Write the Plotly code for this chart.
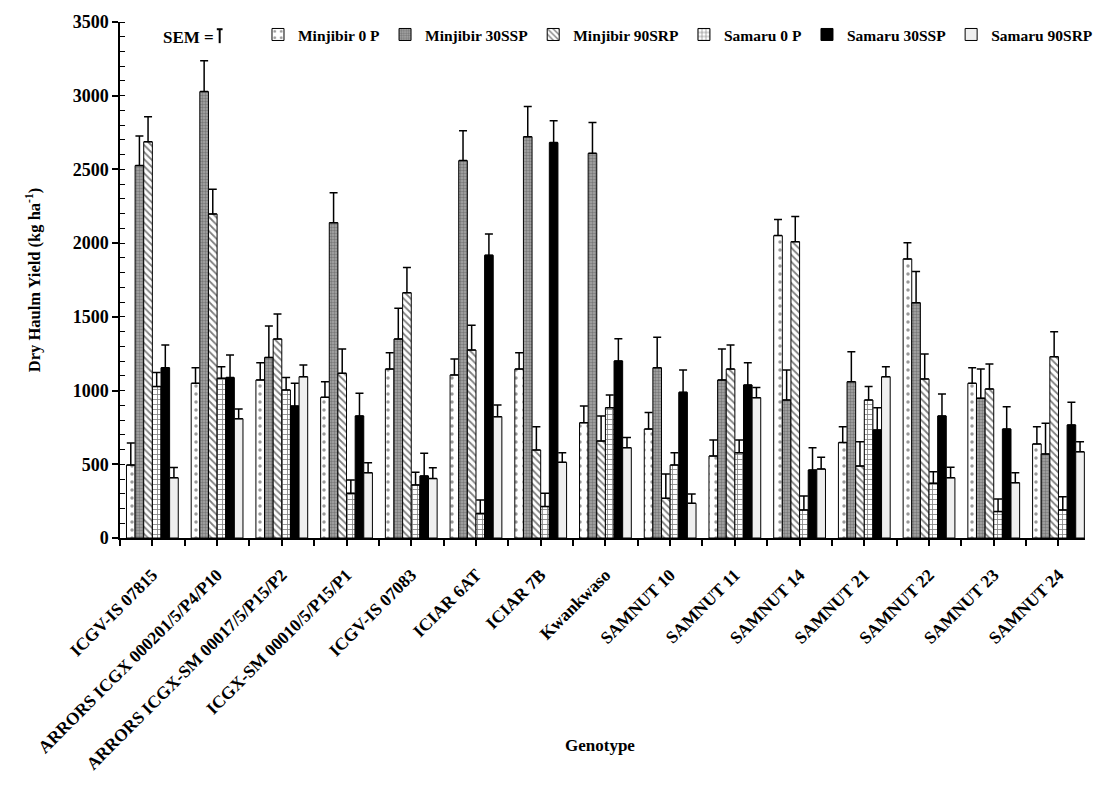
import plotly.graph_objects as go

genotypes = ["ICGV-IS 07815", "ARRORS ICGX 000201/5/P4/P10", "ARRORS ICGX-SM 00017/5/P15/P2",
             "ICGX-SM 00010/5/P15/P1", "ICGV-IS 07083", "ICIAR 6AT", "ICIAR 7B", "Kwankwaso",
             "SAMNUT 10", "SAMNUT 11", "SAMNUT 14", "SAMNUT 21", "SAMNUT 22", "SAMNUT 23", "SAMNUT 24"]

series_names = ["Minjibir 0 P", "Minjibir 30SSP", "Minjibir 90SRP", "Samaru 0 P", "Samaru 30SSP", "Samaru 90SRP"]

minjibir_0p   = [495, 1049, 1072, 954, 1146, 1106, 1146, 782, 739, 556, 2051, 647, 1893, 1049, 638]
minjibir_30   = [2526, 3028, 1225, 2139, 1350, 2560, 2722, 2609, 1155, 1072, 936, 1060, 1596, 948, 570]
minjibir_90   = [2688, 2198, 1350, 1117, 1664, 1275, 597, 658, 269, 1146, 2010, 488, 1079, 1011, 1230]
samaru_0p     = [1027, 1083, 1004, 303, 360, 167, 213, 884, 495, 579, 190, 936, 371, 179, 190]
samaru_30     = [1155, 1088, 895, 828, 421, 1918, 2682, 1201, 988, 1038, 461, 733, 828, 739, 767]
samaru_90     = [409, 809, 1094, 443, 403, 823, 513, 613, 235, 952, 468, 1094, 409, 375, 585]

err_minjibir_0p = [150, 106, 117, 106, 111, 108, 111, 113, 113, 109, 110, 108, 110, 106, 117]
err_minjibir_30 = [200, 210, 213, 203, 208, 203, 204, 209, 206, 210, 204, 204, 211, 198, 208]
err_minjibir_90 = [170, 167, 170, 165, 170, 168, 158, 170, 165, 163, 170, 165, 169, 169, 169]
err_samaru_0p   = [95, 79, 84, 90, 86, 90, 90, 86, 84, 86, 95, 91, 79, 86, 90]
err_samaru_30   = [154, 153, 154, 153, 154, 144, 149, 151, 152, 151, 152, 151, 149, 152, 153]
err_samaru_90   = [70, 66, 79, 68, 74, 79, 66, 68, 63, 68, 79, 68, 71, 68, 68]

values = [minjibir_0p, minjibir_30, minjibir_90, samaru_0p, samaru_30, samaru_90]
errors = [err_minjibir_0p, err_minjibir_30, err_minjibir_90, err_samaru_0p, err_samaru_30, err_samaru_90]

y_ticks = [0, 500, 1000, 1500, 2000, 2500, 3000, 3500]

markers = [
    dict(color="white", line=dict(color="black", width=1),
         pattern=dict(shape=".", fgcolor="#333333", bgcolor="white", size=8, solidity=0.15)),
    dict(color="#8c8c8c", line=dict(color="black", width=1),
         pattern=dict(shape=".", fgcolor="#4a4a4a", bgcolor="#a8a8a8", size=3, solidity=0.5)),
    dict(color="white", line=dict(color="black", width=1),
         pattern=dict(shape="\\", fgcolor="black", bgcolor="white", size=5, solidity=0.35)),
    dict(color="white", line=dict(color="black", width=1),
         pattern=dict(shape="+", fgcolor="black", bgcolor="white", size=5, solidity=0.3)),
    dict(color="black", line=dict(color="black", width=1)),
    dict(color="#efefef", line=dict(color="black", width=1)),
]

x_pos = list(range(len(genotypes)))
FONT = "Liberation Serif, Times New Roman, serif"

fig = go.Figure()
for name, vals, errs, mk in zip(series_names, values, errors, markers):
    fig.add_trace(go.Bar(
        x=x_pos, y=vals, name=name, marker=mk,
        error_y=dict(type="data", symmetric=False, array=errs, arrayminus=[0] * len(errs),
                     color="black", thickness=1.5, width=4),
    ))

fig.update_layout(
    width=1098, height=790,
    barmode="group", bargap=0.2, bargroupgap=0,
    plot_bgcolor="white", paper_bgcolor="white",
    margin=dict(l=120, r=0, t=22, b=252),
    font=dict(family=FONT, size=16, color="black"),
    legend=dict(orientation="h", x=0.143, y=0.975, xanchor="left", yanchor="middle",
                font=dict(family=FONT, size=15.5, color="black", weight="bold"),
                itemwidth=30, bgcolor="rgba(0,0,0,0)", traceorder="normal"),
    xaxis=dict(
        range=[-0.5, 14.41], tickmode="array", tickvals=x_pos,
        ticktext=["<b>%s</b>" % g for g in genotypes], tickangle=-45,
        tickfont=dict(family=FONT, size=17.5, color="black"),
        ticklabelstandoff=12,
        showline=True, linecolor="black", linewidth=1.5,
        ticks="outside", ticklen=6, tickcolor="black", tickwidth=1.5,
        minor=dict(tickvals=[i - 0.5 for i in x_pos], ticks="outside", ticklen=6,
                   tickcolor="black", tickwidth=1.5),
        showgrid=False, zeroline=False, automargin=False,
    ),
    yaxis=dict(
        range=[0, 3500], tickmode="array", tickvals=y_ticks,
        ticktext=["<b>%d</b>" % v for v in y_ticks],
        tickfont=dict(family=FONT, size=18, color="black"),
        showline=True, linecolor="black", linewidth=1.5,
        ticks="outside", ticklen=6, tickcolor="black", tickwidth=1.5,
        minor=dict(dtick=100, ticks="inside", ticklen=5, tickcolor="black", tickwidth=1),
        showgrid=False, zeroline=False, automargin=False,
        title=dict(text="<b>Dry Haulm Yield (kg ha<sup>-1</sup>)</b>", font=dict(family=FONT, size=16.5),
                   standoff=28),
    ),
)

# x-axis title
fig.add_annotation(xref="paper", yref="paper", x=0.497, y=0.0, yshift=-207,
                   xanchor="center", yanchor="middle", showarrow=False,
                   text="<b>Genotype</b>", font=dict(family=FONT, size=17, color="black"))

fig.add_annotation(xref="paper", yref="paper", x=0.0, y=1.0, xshift=-120 + 161, yshift=-15,
                   xanchor="left", yanchor="middle", showarrow=False,
                   text="<b>SEM =</b>", font=dict(family=FONT, size=17, color="black"))
# SEM glyph (error-bar symbol)
fig.add_shape(type="line", xref="paper", yref="paper", x0=0.1033, x1=0.1033, y0=0.959, y1=0.986,
              line=dict(color="black", width=2))
fig.add_shape(type="line", xref="paper", yref="paper", x0=0.1003, x1=0.1063, y0=0.986, y1=0.986,
              line=dict(color="black", width=2))

fig.write_html("out.html")
